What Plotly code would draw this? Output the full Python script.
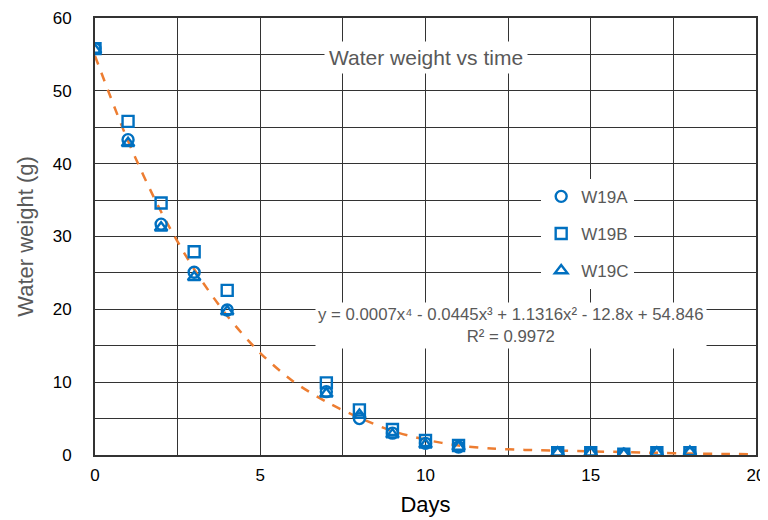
import plotly.graph_objects as go

# Days of measurement and water weight (g) per sample
days = [0, 1, 2, 3, 4, 7, 8, 9, 10, 11, 14, 15, 16, 17, 18]
w19a = [55.8, 43.3, 31.7, 25.1, 19.9, 8.7, 5.0, 3.0, 1.6, 1.1, 0.3, 0.3, 0.1, 0.3, 0.2]
w19b = [55.8, 45.8, 34.6, 27.9, 22.6, 9.9, 6.2, 3.5, 2.0, 1.3, 0.3, 0.3, 0.1, 0.3, 0.3]
w19c = [55.6, 42.8, 31.2, 24.4, 19.7, 8.4, 5.5, 2.8, 1.4, 1.1, 0.3, 0.3, 0.1, 0.3, 0.4]

# Polynomial trendline as drawn in the chart, read at each day
trend_days = list(range(0, 21))
trend_vals = [54.8, 43.1, 33.4, 25.5, 19.1, 14.0, 10.1, 7.3, 5.1, 3.3, 2.1,
              1.3, 0.9, 0.7, 0.6, 0.5, 0.4, 0.3, 0.2, 0.15, 0.1]

series = [
    ("W19A", w19a, "circle-open"),
    ("W19B", w19b, "square-open"),
    ("W19C", w19c, "triangle-up-open"),
]

equation_text = "y = 0.0007x⁴ - 0.0445x³ + 1.1316x² - 12.8x + 54.846<br>R² = 0.9972"

BLUE = "#0070C0"
ORANGE = "#ED7D31"
GRAY = "#595959"
GRID = "#333333"
FONT = "Liberation Sans, Arial, sans-serif"

fig = go.Figure()

fig.add_trace(
    go.Scatter(
        x=trend_days,
        y=trend_vals,
        mode="lines",
        line=dict(color=ORANGE, width=2.5, dash="dash", shape="spline", smoothing=0.8),
        showlegend=False,
        hoverinfo="skip",
    )
)

for name, vals, symbol in series:
    fig.add_trace(
        go.Scatter(
            x=days,
            y=vals,
            mode="markers",
            name=name,
            legendgroup=name,
            marker=dict(symbol=symbol, size=11, color=BLUE, line=dict(width=2.4, color=BLUE)),
        )
    )

fig.add_annotation(
    x=10,
    y=54.6,
    text="Water weight vs time",
    showarrow=False,
    font=dict(size=21, color=GRAY, family=FONT),
    bgcolor="white",
    borderpad=4,
)
fig.add_annotation(
    x=12.6,
    y=17.8,
    text=equation_text,
    showarrow=False,
    font=dict(size=16.8, color=GRAY, family=FONT),
    bgcolor="white",
    borderpad=2,
)

# page body has an 8px margin, so the figure is sized to fill the rest
fig.update_layout(
    width=760,
    height=512,
    margin=dict(l=87, r=12, t=10, b=65),
    plot_bgcolor="white",
    paper_bgcolor="white",
    font=dict(family=FONT, size=16, color="black"),
    legend=dict(
        x=0.675,
        y=0.632,
        xanchor="left",
        yanchor="top",
        bgcolor="white",
        font=dict(size=17, color=GRAY, family=FONT),
        tracegroupgap=12,
        itemwidth=30,
    ),
    xaxis=dict(
        range=[0, 20],
        dtick=5,
        automargin=False,
        showgrid=True,
        gridcolor=GRID,
        gridwidth=1,
        minor=dict(dtick=2.5, showgrid=True, gridcolor=GRID, gridwidth=1),
        showline=True,
        linecolor="#333333",
        linewidth=2,
        mirror=True,
        zeroline=False,
        ticks="",
        ticklabelstandoff=4,
        ticklabeloverflow="allow",
        tickfont=dict(size=17),
        title=dict(text="Days", font=dict(size=22, color="black"), standoff=12),
    ),
    yaxis=dict(
        range=[0, 60],
        dtick=10,
        automargin=False,
        showgrid=True,
        gridcolor=GRID,
        gridwidth=1,
        minor=dict(dtick=5, showgrid=True, gridcolor=GRID, gridwidth=1),
        showline=True,
        linecolor="#333333",
        linewidth=2,
        mirror=True,
        zeroline=False,
        ticks="",
        ticklabelstandoff=18,
        tickfont=dict(size=17),
        title=dict(text="Water weight (g)", font=dict(size=22, color=GRAY), standoff=13),
    ),
)

fig.write_html("out.html")
